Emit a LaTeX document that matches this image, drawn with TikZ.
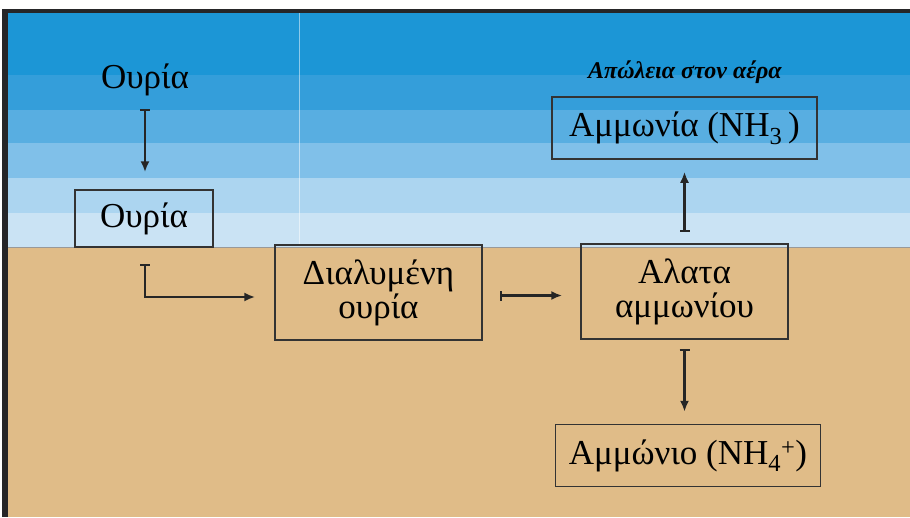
\documentclass[tikz,border=0pt]{standalone}
\usepackage{fontspec}
\setmainfont{Liberation Serif}
\usetikzlibrary{arrows.meta}
\definecolor{skyA}{RGB}{28,150,214}
\definecolor{skyB}{RGB}{52,158,218}
\definecolor{skyC}{RGB}{88,174,225}
\definecolor{skyD}{RGB}{128,192,233}
\definecolor{skyE}{RGB}{172,213,240}
\definecolor{skyF}{RGB}{202,227,244}
\definecolor{sand}{RGB}{224,188,136}
\definecolor{frame}{RGB}{38,38,40}
\tikzset{
  box/.style={draw=black!80, line width=1.5pt, align=center, inner sep=0pt,
    font=\fontsize{35}{34}\selectfont},
  flow/.style={{Bar[width=10pt,line width=2.2pt]}-{Latex[length=11pt,width=9pt]},
    line width=2.2pt, draw=black!85}
}
\begin{document}
\begin{tikzpicture}[x=1pt,y=-1pt]
    \useasboundingbox (0,0) rectangle (910,517);
    \fill[white] (0,0) rectangle (910,517);
    \fill[frame] (2,9) rectangle (910,517);
    % sky bands and soil
    \foreach \ya/\yb/\col in {13/75/skyA,75/110/skyB,110/143/skyC,143/178/skyD,178/213/skyE,213/247/skyF}
      \fill[\col] (8,\ya) rectangle (910,\yb);
    \fill[sand] (8,247) rectangle (910,517);
    \draw[black!40, line width=1pt] (8,247) -- (910,247);
    \draw[white, opacity=0.5, line width=0.8pt] (299,13) -- (299,246);
    % labels and boxes
    \node[font=\fontsize{35}{34}\selectfont] (urea) at (145,80) {Ουρία};
    \node[box, minimum width=138pt, minimum height=57pt] (ureabox) at (144,218.5) {Ουρία};
    \node[box, minimum width=207pt, minimum height=95pt] (dissolved) at (378.5,292.5) {Διαλυμένη\\ουρία};
    \node[box, minimum width=207pt, minimum height=95pt] (salts) at (684.5,291.5) {Αλατα\\αμμωνίου};
    \node[box, minimum width=265pt, minimum height=62pt] (ammonia) at (684.5,128) {Αμμωνία (NH\textsubscript{3}\,)};
    \node[box, minimum width=265pt, minimum height=62pt] (ammonium) at (688,455.5) {Αμμώνιο (NH\textsubscript{4}\textsuperscript{+})};
    \node[font=\fontsize{24}{28}\selectfont\bfseries\itshape] (loss) at (685,72) {Απώλεια στον αέρα};
    % connectors
    \draw[flow] ([yshift=-29pt]urea.center) -- ([yshift=17pt]urea.center |- ureabox.north);
    \draw[flow] ([xshift=1pt,yshift=-16pt]ureabox.south) |- ([xshift=-19pt,yshift=-4.5pt]dissolved.west);
    \draw[flow] ([xshift=17pt,yshift=-3pt]dissolved.east) -- ([xshift=-18pt,yshift=-4pt]salts.west);
    \draw[flow] ([yshift=11pt]salts.north) -- ([yshift=-12pt]salts.north |- ammonia.south);
    \draw[flow] ([yshift=-9pt]salts.south) -- ([yshift=12pt]salts.south |- ammonium.north);
\end{tikzpicture}
\end{document}
